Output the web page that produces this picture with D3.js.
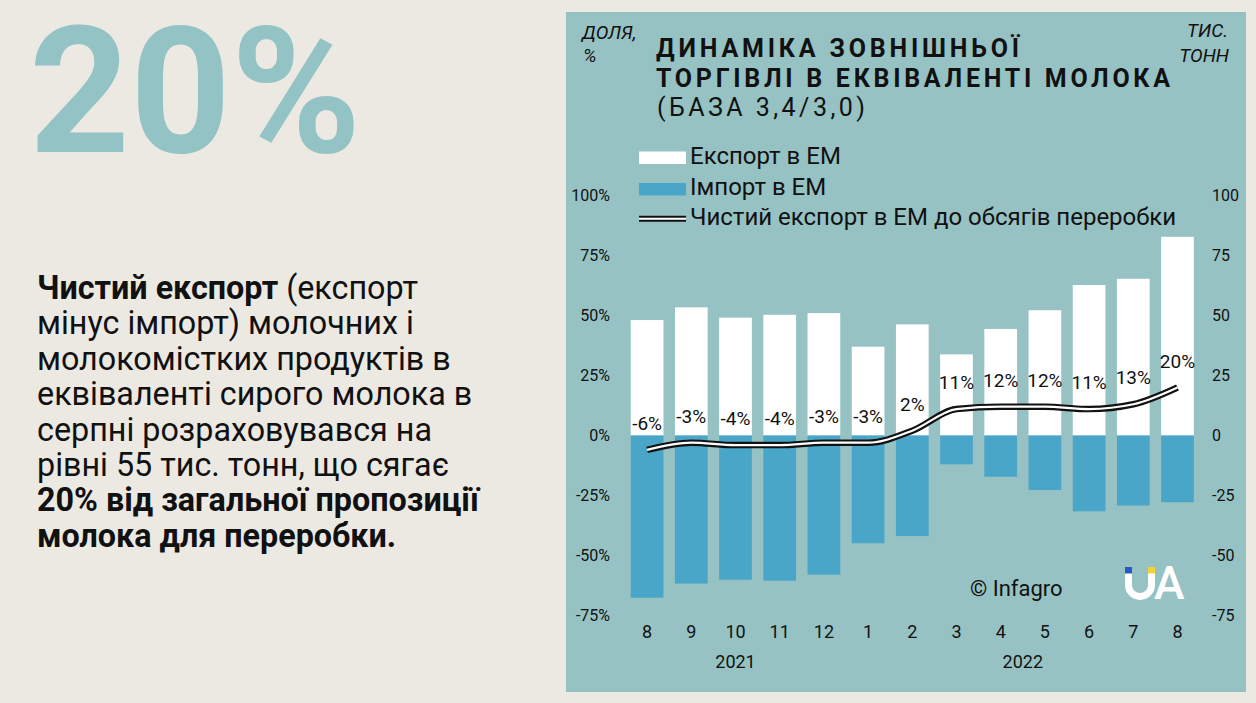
<!DOCTYPE html>
<html><head><meta charset="utf-8">
<script src="https://cdn.jsdelivr.net/npm/d3@7"></script>
<style>
html,body{margin:0;padding:0;background:#ece9e2;overflow:hidden;}
svg{display:block;font-family:Roboto,"Noto Sans",sans-serif;}
</style></head><body>
<svg id="c" width="1256" height="703"></svg>
<script>
// ---- data ----
const months = ["8","9","10","11","12","1","2","3","4","5","6","7","8"];
const yearLabels = ["2021","2022"];
const yearFirstIdx = [0,5];
const yearLastIdx = [4,12];
const exportEM = [48.1,53.4,49.1,50.3,51.0,37.0,46.3,33.8,44.4,52.2,62.7,65.3,82.8];   // тис. тонн
const importEM = [-67.6,-61.7,-60.1,-60.5,-58.0,-44.9,-41.9,-12.0,-17.2,-22.7,-31.6,-29.2,-27.8]; // тис. тонн
const netShare = [-6,-3,-4,-4,-3,-3,2,11,12,12,11,13,20]; // %
const leftTicks = [-75,-50,-25,0,25,50,75,100];
const rightTicks = [-75,-50,-25,0,25,50,75,100];
const titleLines = ["ДИНАМІКА ЗОВНІШНЬОЇ","ТОРГІВЛІ В ЕКВІВАЛЕНТІ МОЛОКА"];
const subtitle = "(БАЗА 3,4/3,0)";
const legendLabels = ["Експорт в ЕМ","Імпорт в ЕМ","Чистий експорт в ЕМ до обсягів переробки"];
const bigNumber = "20%";
const bodyLines = [
  [["Чистий експорт",true],[" (експорт",false]],
  [["мінус імпорт) молочних і",false]],
  [["молокомістких продуктів в",false]],
  [["еквіваленті сирого молока в",false]],
  [["серпні розраховувався на",false]],
  [["рівні 55 тис. тонн, що сягає",false]],
  [["20% від загальної пропозиції",true]],
  [["молока для переробки.",true]]
];

// ---- colors ----
const BG = "#ece9e2", PANEL = "#96c2c4", IMPORT = "#4aa6c9", TEAL = "#94c3c6", INK = "#111";

const svg = d3.select("#c");
svg.append("rect").attr("width",1256).attr("height",703).attr("fill",BG);

// left side
svg.append("text").attr("x",29).attr("y",152).attr("font-size",176).attr("font-weight",700)
  .attr("fill",TEAL).text(bigNumber);

const body = svg.append("text").attr("font-size",32.3).attr("fill",INK);
bodyLines.forEach((parts,i)=>{
  const line = body.append("tspan").attr("x",37).attr("y",299+i*35.4);
  parts.forEach(p=>{
    line.append("tspan").attr("font-weight",p[1]?700:400).text(p[0]);
  });
});

// panel
svg.append("rect").attr("x",566).attr("y",12).attr("width",680).attr("height",680).attr("fill",PANEL);

// scales
const x = d3.scaleBand().domain(d3.range(months.length)).range([625,1199.6]).paddingInner(0.26).paddingOuter(0.13);
const y = d3.scaleLinear().domain([-75,100]).range([615.5,195.5]);

// bars
const g = svg.append("g");
g.selectAll("rect.exp").data(exportEM).join("rect").attr("class","exp")
  .attr("x",(d,i)=>x(i)).attr("width",x.bandwidth())
  .attr("y",d=>y(d)).attr("height",d=>y(0)-y(d)).attr("fill","#fff");
g.selectAll("rect.imp").data(importEM).join("rect").attr("class","imp")
  .attr("x",(d,i)=>x(i)).attr("width",x.bandwidth())
  .attr("y",y(0)).attr("height",d=>y(d)-y(0)).attr("fill",IMPORT);

// net line (double)
const line = d3.line().x((d,i)=>x(i)+x.bandwidth()/2).y(d=>y(d)).curve(d3.curveMonotoneX);
g.append("path").attr("d",line(netShare)).attr("fill","none").attr("stroke","#111").attr("stroke-width",6.5);
g.append("path").attr("d",line(netShare)).attr("fill","none").attr("stroke","#fff").attr("stroke-width",2.2);

// net labels
g.selectAll("text.lab").data(netShare).join("text").attr("class","lab")
  .attr("x",(d,i)=>x(i)+x.bandwidth()/2).attr("y",d=>y(d)-20)
  .attr("text-anchor","middle").attr("font-size",19).attr("fill",INK)
  .text(d=>d+"%");

// axes
const axL = svg.append("g").attr("transform","translate(610,0)")
  .call(d3.axisLeft(y).tickValues(leftTicks).tickFormat(d=>d+"%").tickSize(0).tickPadding(0));
const axR = svg.append("g").attr("transform","translate(1212,0)")
  .call(d3.axisRight(y).tickValues(rightTicks).tickFormat(d=>d).tickSize(0).tickPadding(0));
const axB = svg.append("g").attr("transform","translate(0,625)")
  .call(d3.axisBottom(x).tickFormat(i=>months[i]).tickSize(0).tickPadding(0));
[axL,axR,axB].forEach(a=>{
  a.select(".domain").remove();
  a.selectAll("text").attr("font-family","Roboto").attr("fill",INK);
});
axL.selectAll("text").attr("font-size",16);
axR.selectAll("text").attr("font-size",16);
axB.selectAll("text").attr("font-size",18);

yearLabels.forEach((lab,k)=>{
  const cx = (x(yearFirstIdx[k]) + x(yearLastIdx[k]) + x.bandwidth())/2;
  svg.append("text").attr("x",cx).attr("y",668).attr("text-anchor","middle")
    .attr("font-size",18).attr("fill",INK).text(lab);
});

// title
svg.append("text").attr("x",656).attr("y",57).attr("font-size",25).attr("font-weight",700)
  .attr("textLength",363).attr("lengthAdjust","spacing").attr("fill",INK).text(titleLines[0]);
svg.append("text").attr("x",656).attr("y",87).attr("font-size",25).attr("font-weight",700)
  .attr("textLength",514).attr("lengthAdjust","spacing").attr("fill",INK).text(titleLines[1]);
svg.append("text").attr("x",657).attr("y",116).attr("font-size",25).attr("font-weight",400)
  .attr("textLength",208).attr("lengthAdjust","spacing").attr("fill",INK).text(subtitle);

// unit labels
const unit = (t,xx,yy,anchor)=>svg.append("text").attr("x",xx).attr("y",yy).attr("text-anchor",anchor)
  .attr("font-size",19).attr("font-style","italic").attr("fill",INK).text(t);
unit("ДОЛЯ,",582,39,"start");
unit("%",583,62,"start");
unit("ТИС.",1228,37,"end");
unit("ТОНН",1229,62,"end");

// legend
svg.append("rect").attr("x",639).attr("y",151.5).attr("width",47).attr("height",12.5).attr("fill","#fff");
svg.append("rect").attr("x",639).attr("y",183).attr("width",47).attr("height",12.5).attr("fill",IMPORT);
svg.append("line").attr("x1",639).attr("x2",686).attr("y1",218.7).attr("y2",218.7).attr("stroke","#111").attr("stroke-width",6);
svg.append("line").attr("x1",639).attr("x2",686).attr("y1",218.7).attr("y2",218.7).attr("stroke","#fff").attr("stroke-width",2);
[164,194.5,225].forEach((yy,i)=>{
  svg.append("text").attr("x",690).attr("y",yy).attr("font-size",24).attr("fill",INK).text(legendLabels[i]);
});

// credits
svg.append("text").attr("x",970).attr("y",596).attr("font-size",22).attr("fill",INK).text("© Infagro");
// UA logo
svg.append("path").attr("d","M1128.5,573 V585 A11.5,11.5 0 0 0 1151.5,585 V573")
  .attr("fill","none").attr("stroke","#fff").attr("stroke-width",7);
svg.append("rect").attr("x",1125).attr("y",567).attr("width",7).attr("height",6.5).attr("fill","#2a56c6");
svg.append("rect").attr("x",1148).attr("y",567).attr("width",7).attr("height",6.5).attr("fill","#f2d33a");
svg.append("text").attr("x",1154).attr("y",599).attr("font-size",46).attr("font-weight",500).attr("fill","#fff").text("A");
</script>
</body></html>
